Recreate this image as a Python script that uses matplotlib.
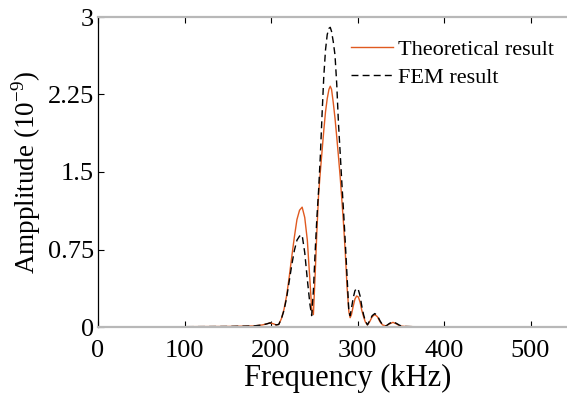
import matplotlib
matplotlib.use("Agg")
import matplotlib.pyplot as plt

# frequency grid (kHz)
freq = [0, 50, 100, 150, 180, 190, 195, 199, 203, 206, 209, 212, 215, 218,
        221, 224, 227, 230, 233, 236, 239, 242, 245, 247, 249, 251, 253, 255,
        257, 259, 261, 263, 265, 267, 268.5, 270, 272, 274, 276, 278, 280,
        282, 284, 286, 288, 290, 291.5, 293, 295, 297, 299, 301, 303, 305,
        307, 309, 311.5, 314, 317, 320, 323, 326, 329, 333, 337, 341, 345,
        349, 355, 365, 380, 400, 450, 500, 550, 600]

# theoretical amplitude (x 1e-9)
theory = [0, 0.002, 0.003, 0.005, 0.01, 0.02, 0.03, 0.04, 0.03, 0.02, 0.025,
          0.08, 0.17, 0.3, 0.48, 0.68, 0.87, 1.04, 1.13, 1.16, 1.06, 0.84,
          0.45, 0.18, 0.12, 0.5, 0.92, 1.28, 1.5, 1.7, 1.9, 2.08, 2.21, 2.3,
          2.33, 2.3, 2.17, 2.02, 1.84, 1.65, 1.45, 1.22, 0.98, 0.7, 0.38,
          0.15, 0.09, 0.12, 0.2, 0.27, 0.3, 0.29, 0.24, 0.16, 0.1, 0.05,
          0.02, 0.05, 0.1, 0.12, 0.1, 0.05, 0.02, 0.01, 0.03, 0.045, 0.03,
          0.01, 0.005, 0.003, 0.002, 0.001, 0.001, 0.001, 0.001, 0.001]

# FEM amplitude (x 1e-9)
fem = [0, 0.002, 0.003, 0.005, 0.01, 0.02, 0.03, 0.04, 0.03, 0.02, 0.025,
       0.08, 0.16, 0.28, 0.44, 0.6, 0.74, 0.84, 0.88, 0.89, 0.72, 0.46,
       0.22, 0.11, 0.35, 0.72, 1.05, 1.32, 1.65, 2.05, 2.42, 2.68, 2.83,
       2.89, 2.9, 2.86, 2.76, 2.63, 2.35, 1.97, 1.68, 1.38, 1.1, 0.8, 0.48,
       0.15, 0.11, 0.18, 0.28, 0.35, 0.375, 0.36, 0.3, 0.2, 0.12, 0.06,
       0.02, 0.06, 0.11, 0.13, 0.11, 0.06, 0.02, 0.01, 0.035, 0.05, 0.035,
       0.015, 0.005, 0.003, 0.002, 0.001, 0.001, 0.001, 0.001, 0.001]

xticks = [0, 100, 200, 300, 400, 500]
yticks = [0, 0.75, 1.5, 2.25, 3]
ytick_labels = ['0', '0.75', '1.5', '2.25', '3']

plt.rcParams['font.family'] = ['Liberation Serif', 'DejaVu Serif']
plt.rcParams['mathtext.fontset'] = 'custom'
plt.rcParams['mathtext.rm'] = 'Liberation Serif'

fig = plt.figure(figsize=(5.67, 3.98), dpi=100)
# the original axes run past the right edge of the picture
ax = fig.add_axes([98 / 567, 1 - 327 / 398, 500 / 567, (327 - 17) / 398])

ax.plot(freq, theory, color='#E05A20', lw=1.0, label='Theoretical result')
ax.plot(freq, fem, color='black', lw=1.0, ls=(0, (5, 3)), label='FEM result')

ax.set_xlim(0, 500 / 0.865)
ax.set_ylim(0, 3)
ax.set_xticks(xticks)
ax.set_yticks(yticks)
ax.set_yticklabels(ytick_labels)
ax.tick_params(axis='both', direction='in', length=4, width=0.8,
               labelsize=19, top=True, right=False)
ax.tick_params(axis='x', pad=9.5)
ax.tick_params(axis='y', pad=3)

for side in ['top', 'bottom']:
    ax.spines[side].set_color('#b8b8b8')
    ax.spines[side].set_linewidth(1.6)
ax.spines['left'].set_color('black')
ax.spines['left'].set_linewidth(0.9)
ax.spines['right'].set_visible(False)

ax.set_xlabel('Frequency (kHz)', fontsize=22, labelpad=1)
ax.set_ylabel('Ampplitude (10$^{-9}$)', fontsize=19.5, labelpad=3)

ax.legend(loc='upper right', bbox_to_anchor=(1.0, 0.935),
          bbox_transform=fig.transFigure, frameon=False, fontsize=16,
          handlelength=1.9, handletextpad=0.2, labelspacing=0.35,
          borderaxespad=0.2)

fig.savefig('out.png', dpi=100)
